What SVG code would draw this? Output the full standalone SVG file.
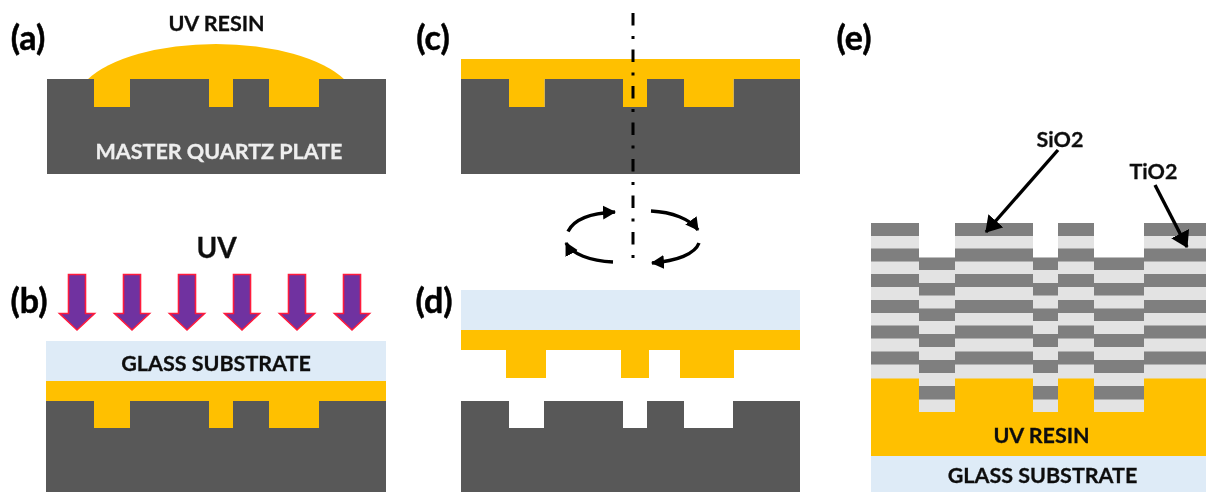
<svg xmlns="http://www.w3.org/2000/svg" width="1206" height="492" viewBox="0 0 1206 492">
<style>
.q{fill:#595959}.r{fill:#ffc000}.g{fill:#deebf7}.d{fill:#7f7f7f}.l{fill:#e3e3e3}
text{font-family:"Lato","Open Sans","Liberation Sans",sans-serif;font-weight:700;fill:#111;stroke:#111;stroke-width:.3;text-anchor:middle}
.p{font-size:34px;fill:#000;stroke:#000;stroke-width:.5}.m{font-size:21.500px}.w{fill:#eee;stroke:#eee}
.u{fill:#7030a0;stroke:#ff1a3c;stroke-width:1.6}
.c{fill:none;stroke:#000;stroke-width:3.400}
</style>
<defs>
<filter id="b" x="-2%" y="-2%" width="104%" height="104%"><feGaussianBlur stdDeviation="0.55"/></filter>
<path id="ua" d="M-8.500 0H8.500V39H17.500L0 55.500L-17.500 39H-8.500Z"/>
<marker id="h" markerUnits="userSpaceOnUse" markerWidth="16" markerHeight="16" refX="12" refY="7" orient="auto"><path d="M0 0L13 7L0 14Z"/></marker>
<marker id="h2" markerUnits="userSpaceOnUse" markerWidth="22" markerHeight="22" refX="15" refY="10" orient="auto"><path d="M0 0L16 10L0 20Z"/></marker>
</defs>
<g filter="url(#b)">
<g id="panel-a">
<path class="r" d="M87 80A140.700 60 0 0 1 345 80Z"/>
<path class="q" d="M47 79H94V107H130V79H209V107H233V79H269V107H319V79H386V174H47Z"/>
<path class="r" d="M94 79H130V107H94ZM209 79H233V107H209ZM269 79H319V107H269Z"/>
<text class="m" x="216.500" y="31">UV RESIN</text>
<text class="m w" x="219" y="159">MASTER QUARTZ PLATE</text>
<text class="p" x="28" y="50">(a)</text>
</g>
<g id="panel-b">
<rect class="g" x="46" y="341" width="340" height="40"/>
<rect class="r" x="46" y="381" width="340" height="20"/>
<path class="q" d="M46 401H94V428H130V401H209V428H233V401H269V428H319V401H386V492H46Z"/>
<path class="r" d="M94 401H130V428H94ZM209 401H233V428H209ZM269 401H319V428H269Z"/>
<g class="u"><use href="#ua" x="77" y="274.500"/><use href="#ua" x="132" y="274.500"/><use href="#ua" x="187" y="274.500"/><use href="#ua" x="242" y="274.500"/><use href="#ua" x="297" y="274.500"/><use href="#ua" x="352" y="274.500"/></g>
<text x="216.500" y="258" style="font-size:28px">UV</text>
<text class="m" x="216" y="371">GLASS SUBSTRATE</text>
<text class="p" x="29" y="313">(b)</text>
</g>
<g id="panel-c">
<rect class="r" x="461" y="59" width="339" height="20"/>
<path class="q" d="M461 79H509V107H544.500V79H623V107H647V79H684V107H733.500V79H800V174H461Z"/>
<path class="r" d="M509 79H544.500V107H509ZM623 79H647V107H623ZM684 79H733.500V107H684Z"/>
<text class="p" x="433" y="50">(c)</text>
</g>
<g id="panel-d">
<rect class="g" x="461" y="290" width="339" height="40"/>
<path class="r" d="M461 330H800V350H734V378H680V350H649V378H621V350H546V378H506V350H461Z"/>
<path class="q" d="M461 401H509V428H544V401H623V428H647V401H684V428H733V401H800V492H461Z"/>
<text class="p" x="434" y="313">(d)</text>
</g>
<g id="panel-e">
<path class="l" d="M871 236H919V270H955V236H1033V270H1058V236H1094V270H1144V236H1206V379H1144V412H1094V379H1058V412H1033V379H955V412H919V379H871Z"/>
<g class="d">
<rect x="871" y="223" width="48" height="13"/><rect x="955" y="223" width="78" height="13"/><rect x="1058" y="223" width="36" height="13"/><rect x="1144" y="223" width="62" height="13"/>
<rect x="871" y="248.500" width="48" height="13"/><rect x="955" y="248.500" width="78" height="13"/><rect x="1058" y="248.500" width="36" height="13"/><rect x="1144" y="248.500" width="62" height="13"/>
<rect x="871" y="274" width="48" height="13"/><rect x="955" y="274" width="78" height="13"/><rect x="1058" y="274" width="36" height="13"/><rect x="1144" y="274" width="62" height="13"/>
<rect x="871" y="300" width="48" height="13"/><rect x="955" y="300" width="78" height="13"/><rect x="1058" y="300" width="36" height="13"/><rect x="1144" y="300" width="62" height="13"/>
<rect x="871" y="325.500" width="48" height="13"/><rect x="955" y="325.500" width="78" height="13"/><rect x="1058" y="325.500" width="36" height="13"/><rect x="1144" y="325.500" width="62" height="13"/>
<rect x="871" y="351.500" width="48" height="13"/><rect x="955" y="351.500" width="78" height="13"/><rect x="1058" y="351.500" width="36" height="13"/><rect x="1144" y="351.500" width="62" height="13"/>
<rect x="919" y="257.500" width="36" height="12.500"/><rect x="1033" y="257.500" width="25" height="12.500"/><rect x="1094" y="257.500" width="50" height="12.500"/>
<rect x="919" y="283" width="36" height="12.500"/><rect x="1033" y="283" width="25" height="12.500"/><rect x="1094" y="283" width="50" height="12.500"/>
<rect x="919" y="308.500" width="36" height="12.500"/><rect x="1033" y="308.500" width="25" height="12.500"/><rect x="1094" y="308.500" width="50" height="12.500"/>
<rect x="919" y="334" width="36" height="13"/><rect x="1033" y="334" width="25" height="13"/><rect x="1094" y="334" width="50" height="13"/>
<rect x="919" y="360" width="36" height="13"/><rect x="1033" y="360" width="25" height="13"/><rect x="1094" y="360" width="50" height="13"/>
</g>
<path class="r" d="M871 378.500H919V412H955V378.500H1033V412H1058V378.500H1094V412H1144V378.500H1206V456H871Z"/>
<rect class="l" x="919" y="373" width="36" height="39"/><rect class="l" x="1033" y="373" width="25" height="39"/><rect class="l" x="1094" y="373" width="50" height="39"/>
<rect class="d" x="919" y="386" width="36" height="13.500"/><rect class="d" x="1033" y="386" width="25" height="13.500"/><rect class="d" x="1094" y="386" width="50" height="13.500"/>
<rect class="g" x="871" y="456" width="335" height="36"/>
<text class="m" x="1041.500" y="443">UV RESIN</text>
<text class="m" x="1042.500" y="483">GLASS SUBSTRATE</text>
<text class="p" x="854" y="50">(e)</text>
<text class="m" x="1060" y="147">SiO2</text>
<text class="m" x="1153.500" y="179">TiO2</text>
</g>
<g id="connectors">
<path d="M633 13V258" fill="none" stroke="#000" stroke-width="3" stroke-dasharray="12.500 10.500 3 10.500"/>
<path class="c" marker-end="url(#h)" d="M568 231.500C574 219 592 213 615 212"/>
<path class="c" marker-end="url(#h)" d="M651 211C672 212 690 219 698 230"/>
<path class="c" marker-end="url(#h)" d="M699 243C695 254 677 261 652 263"/>
<path class="c" marker-end="url(#h)" d="M613 262C590 261 572 254 566 243"/>
<path d="M1058 150L986 232" fill="none" stroke="#000" stroke-width="3.400" marker-end="url(#h2)"/>
<path d="M1155 185L1187 247" fill="none" stroke="#000" stroke-width="3.400" marker-end="url(#h2)"/>
</g>
</g>
</svg>
